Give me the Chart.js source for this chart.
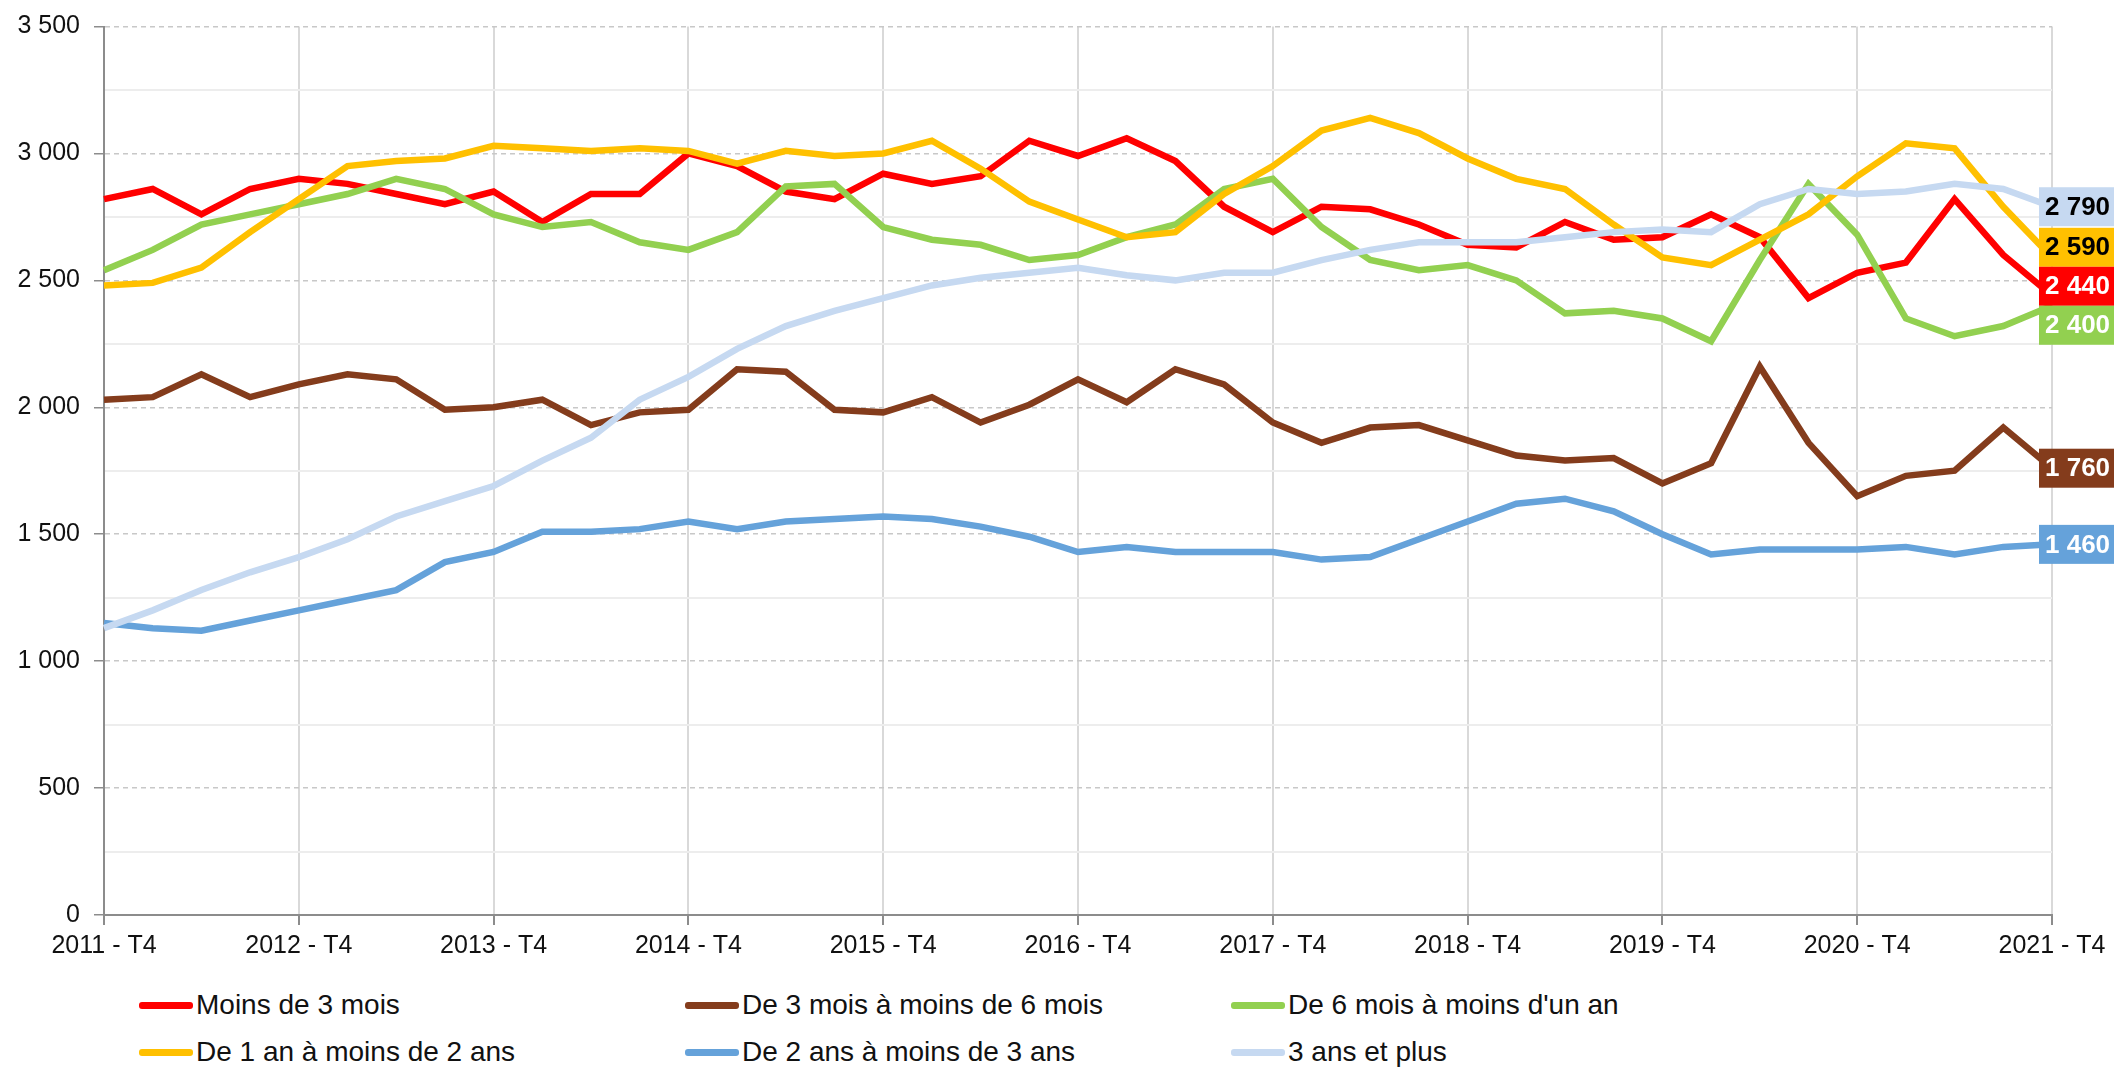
<!DOCTYPE html>
<html>
<head>
<meta charset="utf-8">
<script src="https://cdn.jsdelivr.net/npm/chart.js@4"></script>
<style>
  body { margin: 0; background: #fff; overflow: hidden; }
  #wrap { position: relative; width: 2114px; height: 1070px; }
  #legend { position: absolute; left: 0; top: 985px; width: 2114px; font-family: "Liberation Sans", Arial, sans-serif; font-size: 28px; color: #111; }
  .item { position: absolute; height: 40px; display: flex; align-items: center; white-space: nowrap; }
  .item span.line { display: inline-block; width: 54px; height: 7px; border-radius: 3px; margin-right: 3px; }
</style>
</head>
<body>
<div id="wrap">
  <canvas id="chart" width="2114" height="975"></canvas>
  <div id="legend"></div>
</div>
<script>
// Demandeurs d'emploi par ancienneté d'inscription

const quarters = [
  "2011 - T4",
  "2012 - T1", "2012 - T2", "2012 - T3", "2012 - T4",
  "2013 - T1", "2013 - T2", "2013 - T3", "2013 - T4",
  "2014 - T1", "2014 - T2", "2014 - T3", "2014 - T4",
  "2015 - T1", "2015 - T2", "2015 - T3", "2015 - T4",
  "2016 - T1", "2016 - T2", "2016 - T3", "2016 - T4",
  "2017 - T1", "2017 - T2", "2017 - T3", "2017 - T4",
  "2018 - T1", "2018 - T2", "2018 - T3", "2018 - T4",
  "2019 - T1", "2019 - T2", "2019 - T3", "2019 - T4",
  "2020 - T1", "2020 - T2", "2020 - T3", "2020 - T4",
  "2021 - T1", "2021 - T2", "2021 - T3", "2021 - T4"
];

const seriesNames = [
  "Moins de 3 mois",
  "De 3 mois à moins de 6 mois",
  "De 6 mois à moins d'un an",
  "De 1 an à moins de 2 ans",
  "De 2 ans à moins de 3 ans",
  "3 ans et plus"
];

const moins3mois = [2820, 2860, 2760, 2860, 2900, 2880, 2840, 2800, 2850, 2730, 2840, 2840, 3000, 2950, 2850, 2820, 2920, 2880, 2910, 3050, 2990, 3060, 2970, 2790, 2690, 2790, 2780, 2720, 2640, 2630, 2730, 2660, 2670, 2760, 2670, 2430, 2530, 2570, 2820, 2600, 2440];
const de3a6mois = [2030, 2040, 2130, 2040, 2090, 2130, 2110, 1990, 2000, 2030, 1930, 1980, 1990, 2150, 2140, 1990, 1980, 2040, 1940, 2010, 2110, 2020, 2150, 2090, 1940, 1860, 1920, 1930, 1870, 1810, 1790, 1800, 1700, 1780, 2160, 1860, 1650, 1730, 1750, 1920, 1760];
const de6moisA1an = [2540, 2620, 2720, 2760, 2800, 2840, 2900, 2860, 2760, 2710, 2730, 2650, 2620, 2690, 2870, 2880, 2710, 2660, 2640, 2580, 2600, 2670, 2720, 2860, 2900, 2710, 2580, 2540, 2560, 2500, 2370, 2380, 2350, 2260, 2580, 2880, 2680, 2350, 2280, 2320, 2400];
const de1a2ans = [2480, 2490, 2550, 2690, 2820, 2950, 2970, 2980, 3030, 3020, 3010, 3020, 3010, 2960, 3010, 2990, 3000, 3050, 2940, 2810, 2740, 2670, 2690, 2840, 2950, 3090, 3140, 3080, 2980, 2900, 2860, 2720, 2590, 2560, 2660, 2760, 2910, 3040, 3020, 2790, 2590];
const de2a3ans = [1150, 1130, 1120, 1160, 1200, 1240, 1280, 1390, 1430, 1510, 1510, 1520, 1550, 1520, 1550, 1560, 1570, 1560, 1530, 1490, 1430, 1450, 1430, 1430, 1430, 1400, 1410, 1480, 1550, 1620, 1640, 1590, 1500, 1420, 1440, 1440, 1440, 1450, 1420, 1450, 1460];
const plus3ans = [1130, 1200, 1280, 1350, 1410, 1480, 1570, 1630, 1690, 1790, 1880, 2030, 2120, 2230, 2320, 2380, 2430, 2480, 2510, 2530, 2550, 2520, 2500, 2530, 2530, 2580, 2620, 2650, 2650, 2650, 2670, 2690, 2700, 2690, 2800, 2860, 2840, 2850, 2880, 2860, 2790];

const colors = ["#ff0000", "#843c1c", "#92d050", "#ffc000", "#65a2da", "#c6d9f1"];
const labelTextColors = ["#fff", "#fff", "#fff", "#000", "#fff", "#000"];
const allSeries = [moins3mois, de3a6mois, de6moisA1an, de1a2ans, de2a3ans, plus3ans];

const FONT = "'Liberation Sans', Arial, sans-serif";

function fmt(v) {
  return String(v).replace(/\B(?=(\d{3})+(?!\d))/g, " ");
}

// last value boxes on the right, pushed apart so they don't overlap
const endLabels = {
  id: "endLabels",
  afterDatasetsDraw(chart) {
    const ctx = chart.ctx;
    const area = chart.chartArea;
    const h = 39;
    let items = chart.data.datasets.map((ds, i) => {
      const v = ds.data[ds.data.length - 1];
      return { i: i, v: v, y: chart.scales.y.getPixelForValue(v) };
    });
    items.sort((a, b) => a.y - b.y);
    for (let k = 0; k < 100; k++) {
      for (let j = 0; j < items.length - 1; j++) {
        const gap = items[j + 1].y - items[j].y;
        if (gap < h) {
          const d = (h - gap) / 2;
          items[j].y -= d;
          items[j + 1].y += d;
        }
      }
    }
    const x0 = area.right - 13;
    ctx.save();
    ctx.font = "bold 26px " + FONT;
    ctx.textBaseline = "middle";
    items.forEach(it => {
      ctx.fillStyle = colors[it.i];
      ctx.fillRect(x0, it.y - h / 2, chart.width - x0, h);
      ctx.fillStyle = labelTextColors[it.i];
      ctx.fillText(fmt(it.v), x0 + 6, it.y + 1);
    });
    ctx.restore();
  }
};

const ctx = document.getElementById("chart").getContext("2d");
const chart = new Chart(ctx, {
  type: "line",
  data: {
    labels: quarters,
    datasets: allSeries.map((d, i) => ({
      label: seriesNames[i],
      data: d,
      borderColor: colors[i],
      backgroundColor: colors[i],
      borderWidth: 6.5,
      pointRadius: 0,
      tension: 0,
      order: -i
    }))
  },
  options: {
    responsive: false,
    animation: false,
    layout: { padding: { top: 24, right: 62, left: 0, bottom: 0 } },
    plugins: {
      legend: { display: false },
      tooltip: { enabled: false }
    },
    scales: {
      x: {
        offset: false,
        ticks: {
          autoSkip: false,
          maxRotation: 0,
          padding: 6,
          color: "#111",
          font: { family: FONT, size: 25 },
          callback: (v, i) => (i % 4 === 0 ? quarters[i] : "")
        },
        grid: {
          color: c => (c.index % 4 === 0 ? "#d9d9d9" : "transparent"),
          tickColor: c => (c.index % 4 === 0 ? "#8c8c8c" : "transparent"),
          lineWidth: 2,
          tickLength: 10
        },
        border: { color: "#8c8c8c", width: 2 },
        afterFit: s => { s.height = 60; }
      },
      y: {
        min: 0,
        max: 3500,
        ticks: {
          stepSize: 500,
          padding: 14,
          color: "#111",
          font: { family: FONT, size: 25, lineHeight: 1 },
          callback: v => fmt(v)
        },
        grid: { color: "#c8c8c8", lineWidth: 1.5, tickColor: "#8c8c8c", tickLength: 10 },
        border: { color: "#8c8c8c", width: 2, dash: [5, 4] },
        afterFit: s => { s.width = 104; }
      },
      y2: {
        position: "left",
        min: 0,
        max: 3500,
        ticks: { stepSize: 250, display: false },
        grid: {
          color: c => (c.tick && c.tick.value % 500 !== 0 ? "#ededed" : "transparent"),
          lineWidth: 2,
          drawTicks: false
        },
        border: { display: false },
        afterFit: s => { s.width = 0; }
      }
    }
  },
  plugins: [endLabels]
});

// legend in 3 columns, 2 rows like the original
const legend = document.getElementById("legend");
const colX = [139, 685, 1231];
const rowY = [0, 47];
seriesNames.forEach((name, i) => {
  const div = document.createElement("div");
  div.className = "item";
  div.style.left = colX[i % 3] + "px";
  div.style.top = rowY[Math.floor(i / 3)] + "px";
  div.innerHTML = '<span class="line" style="background:' + colors[i] + '"></span>' + name;
  legend.appendChild(div);
});
</script>
</body>
</html>
